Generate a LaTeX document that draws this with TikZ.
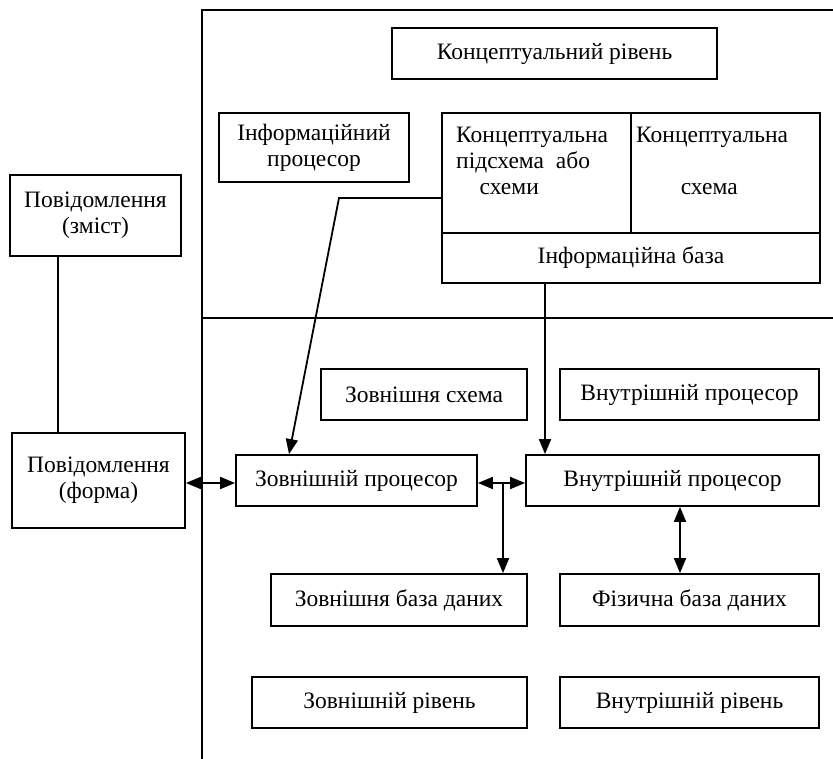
\documentclass[tikz,border=0pt]{standalone}
\usepackage{fontspec}
\setmainfont{Liberation Serif}
\usetikzlibrary{arrows.meta}

\begin{document}
\begin{tikzpicture}[x=1pt, y=-1pt,
  font=\fontsize{23.5}{26}\selectfont,
  box/.style={draw=black, line width=1.8pt, inner sep=0pt, align=center},
  txt/.style={inner sep=0pt, align=left},
  arr/.style={line width=1.8pt, -{Triangle[length=15pt,width=12pt]}},
  dblarr/.style={line width=1.8pt, {Triangle[length=15pt,width=12pt]}-{Triangle[length=15pt,width=12pt]}}]
\useasboundingbox (0,0) rectangle (833,759);

% Frame
\draw[line width=1.8pt] (833,10) -- (202,10) -- (202,759);
\draw[line width=1.8pt] (202,318) -- (833,318);

% Message
\node[box, minimum width=171, minimum height=81] (zmist) at (95.5,215.5) {Повідомлення\\(зміст)};
\node[box, minimum width=173, minimum height=95] (forma) at (98.5,480.5) {Повідомлення\\(форма)};

% Conceptual level
\node[box, minimum width=325, minimum height=51] (konrivl) at (554.5,53.5) {Концептуальний рівень};
\node[box, minimum width=190, minimum height=69] (infoproc) at (314,147.5) {Інформаційний\\процесор};
\node[box, minimum width=189, minimum height=120] (subsch) at (536.5,173) {};
\node[box, minimum width=189, minimum height=120] (konsch) at (725.5,173) {};
\node[box, minimum width=378, minimum height=50] (infobase) at (631,258) {Інформаційна база};
\node[txt, anchor=north west] (subschtxt) at (456,127) {Концептуальна\\підсхема\ \ або\\\hspace{1em}схеми};
\node[txt, anchor=north west] (konschtxt) at (636,127) {Концептуальна\\ \\\hspace{1.9em}схема};

% External and internal levels
\node[box, minimum width=206, minimum height=51] (extsch) at (424,394.5) {Зовнішня схема};
\node[box, minimum width=259, minimum height=51] (intprocb) at (689.5,394.5) {Внутрішній процесор};
\node[box, minimum width=241, minimum height=51] (extproc) at (356.5,480.5) {Зовнішній процесор};
\node[box, minimum width=293, minimum height=51] (intproc) at (672.5,480.5) {Внутрішній процесор};
\node[box, minimum width=256, minimum height=52] (extdb) at (399,600) {Зовнішня база даних};
\node[box, minimum width=259, minimum height=52] (physdb) at (689.5,600) {Фізична база даних};
\node[box, minimum width=275, minimum height=51] (extlvl) at (389.5,702.5) {Зовнішній рівень};
\node[box, minimum width=259, minimum height=51] (intlvl) at (689.5,702.5) {Внутрішній рівень};

% Connectors
\coordinate (mx) at (58,0);
\coordinate (bend) at (339,198);
\coordinate (tipx) at (289,0);
\coordinate (kx) at (545,0);
\coordinate (branch) at (503,483);
\coordinate (fx) at (680,0);
\draw[line width=1.8pt] (zmist.south -| mx) -- (forma.north -| mx);
\draw[dblarr] (forma.east |- branch) -- (extproc.west |- branch);
\draw[arr] (subsch.west |- bend) -- (bend) -- (extproc.north -| tipx);
\draw[arr] (infobase.south -| kx) -- (intproc.north -| kx);
\draw[dblarr] (extproc.east |- branch) -- (intproc.west |- branch);
\draw[arr] (branch) -- (extdb.north -| branch);
\draw[dblarr] (intproc.south -| fx) -- (physdb.north -| fx);
\end{tikzpicture}
\end{document}
